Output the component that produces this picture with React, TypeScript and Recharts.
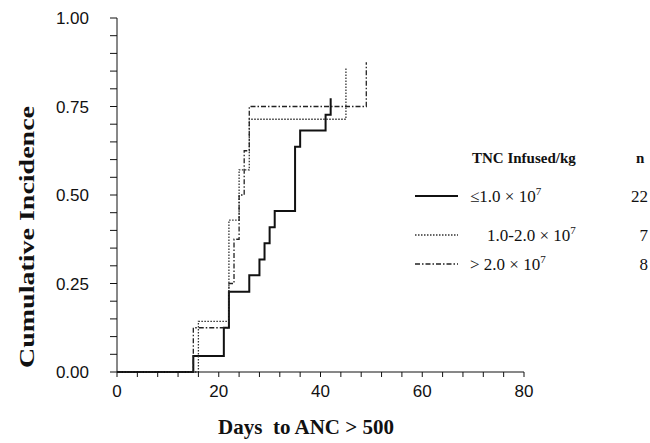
import * as React from "react";
import { LineChart, Line, XAxis, YAxis } from "recharts";

// Cumulative incidence of neutrophil engraftment
const DAYS_LOW = [0, 15, 21, 22, 26, 28, 29, 30, 31, 35, 36, 41, 42];
const CI_LOW = [0, 0.045, 0.125, 0.227, 0.273, 0.318, 0.364, 0.409, 0.455, 0.636, 0.682, 0.727, 0.773];

const DAYS_MID = [0, 16, 22, 24, 26, 45];
const CI_MID = [0, 0.143, 0.429, 0.571, 0.714, 0.857];

const DAYS_HIGH = [0, 15, 22, 23, 24, 25, 26, 49];
const CI_HIGH = [0, 0.125, 0.25, 0.375, 0.5, 0.625, 0.75, 0.875];

const GROUP_LABELS = ["≤1.0 × 10", "1.0-2.0 × 10", "> 2.0 × 10"];
const GROUP_N = ["22", "7", "8"];

const X_TICKS = [0, 4, 8, 12, 16, 20, 24, 28, 32, 36, 40, 44, 48, 52, 56, 60, 64, 68, 72, 76, 80];
const Y_TICKS = [0, 0.05, 0.1, 0.15, 0.2, 0.25, 0.3, 0.35, 0.4, 0.45, 0.5, 0.55, 0.6, 0.65, 0.7, 0.75, 0.8, 0.85, 0.9, 0.95, 1];

const toRows = (days: number[], ci: number[]) => days.map((day, i) => ({ day, ci: ci[i] }));

const SERIF = "'Liberation Serif', 'Times New Roman', serif";
const SANS = "'Liberation Sans', Arial, sans-serif";

const STYLES = [
  { stroke: "#111", width: 2, dash: undefined as string | undefined },
  { stroke: "#333", width: 1.3, dash: "1.5 1.5" },
  { stroke: "#222", width: 1.3, dash: "5 2 1.5 2" },
];

export default function App() {
  const series = [toRows(DAYS_LOW, CI_LOW), toRows(DAYS_MID, CI_MID), toRows(DAYS_HIGH, CI_HIGH)];
  const rowY = [196, 235, 264];

  return (
    <div style={{ position: "absolute", left: 0, top: 0, width: 650, height: 443, background: "#fff" }}>
      <LineChart width={650} height={443} margin={{ top: 18, right: 126, left: 0, bottom: 0 }}>
        <XAxis
          type="number"
          dataKey="day"
          domain={[0, 80]}
          ticks={X_TICKS}
          interval={0}
          allowDataOverflow
          height={71}
          tickSize={5}
          tickMargin={8}
          stroke="#111"
          tick={{ fill: "#111", fontSize: 17, fontFamily: SANS }}
          tickFormatter={(d: number) => (d % 20 === 0 ? String(d) : "")}
        />
        <YAxis
          type="number"
          domain={[0, 1]}
          ticks={Y_TICKS}
          interval={0}
          width={117}
          tickSize={7}
          tickMargin={21}
          stroke="#111"
          tick={{ fill: "#111", fontSize: 17, fontFamily: SANS }}
          tickFormatter={(v: number) => (Math.round(v * 100) % 25 === 0 ? v.toFixed(2) : "")}
        />
        {series.map((rows, i) => (
          <Line
            key={i}
            data={rows}
            dataKey="ci"
            type="stepAfter"
            dot={false}
            stroke={STYLES[i].stroke}
            strokeWidth={STYLES[i].width}
            strokeDasharray={STYLES[i].dash}
            isAnimationActive={false}
          />
        ))}
      </LineChart>
      <svg width={650} height={443} style={{ position: "absolute", left: 0, top: 0, pointerEvents: "none" }}>
        <text
          x={27}
          y={237}
          transform="rotate(-90 27 237)"
          textAnchor="middle"
          dominantBaseline="central"
          fontFamily={SERIF}
          fontWeight="bold"
          fontSize={21}
          textLength={262}
          lengthAdjust="spacingAndGlyphs"
          fill="#111"
        >
          Cumulative Incidence
        </text>
        <text x={306} y={434} textAnchor="middle" fontFamily={SERIF} fontWeight="bold" fontSize={21} fill="#111">
          Days{"\u00a0 "}to ANC {">"} 500
        </text>
        <text x={472} y={163} fontFamily={SERIF} fontWeight="bold" fontSize={15} fill="#111">
          TNC Infused/kg
        </text>
        <text x={636} y={163} fontFamily={SERIF} fontWeight="bold" fontSize={15} fill="#111">
          n
        </text>
        {GROUP_LABELS.map((label, i) => (
          <g key={label}>
            <line
              x1={415}
              x2={458}
              y1={rowY[i]}
              y2={rowY[i]}
              stroke={STYLES[i].stroke}
              strokeWidth={STYLES[i].width}
              strokeDasharray={STYLES[i].dash}
            />
            <text x={i === 1 ? 487 : 470} y={rowY[i] + 6} fontFamily={SERIF} fontSize={17} fill="#111">
              {label}
              <tspan dy={-7} fontSize={11}>7</tspan>
            </text>
            <text x={648} y={rowY[i] + 6} textAnchor="end" fontFamily={SERIF} fontSize={17} fill="#111">
              {GROUP_N[i]}
            </text>
          </g>
        ))}
      </svg>
    </div>
  );
}
